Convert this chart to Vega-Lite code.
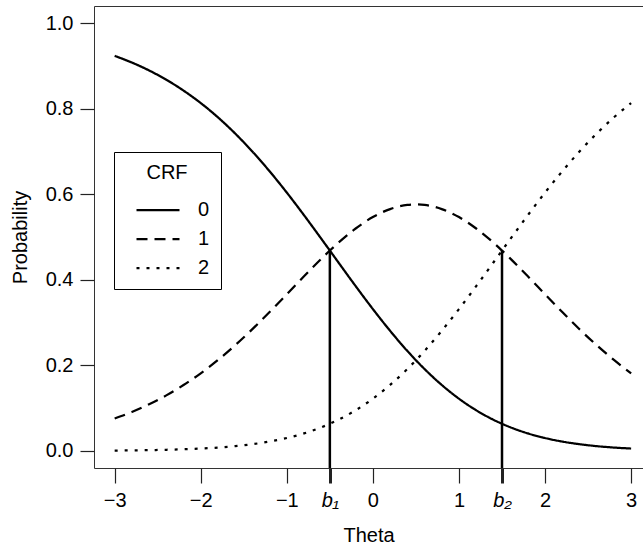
{
  "$schema": "https://vega.github.io/schema/vega-lite/v6.json",
  "width": 549,
  "height": 462,
  "autosize": {"type": "none"},
  "padding": {"left": 94, "top": 6, "right": 0, "bottom": 79},
  "background": "white",
  "config": {
    "font": "Liberation Sans",
    "view": {"stroke": "#333333", "strokeWidth": 1},
    "axis": {
      "grid": false,
      "domain": false,
      "labelFontSize": 20,
      "titleFontSize": 20,
      "titleFontWeight": "normal",
      "labelColor": "black",
      "titleColor": "black",
      "tickColor": "#222222"
    },
    "legend": {
      "titleFontSize": 20,
      "titleFontWeight": "normal",
      "titleColor": "black",
      "labelFontSize": 20,
      "labelColor": "black"
    }
  },
  "datasets": {
    "crf": [
      {"theta": -3.0, "0": 0.9234, "1": 0.0758, "2": 0.0008},
      {"theta": -2.8, "0": 0.9078, "1": 0.0910, "2": 0.0012},
      {"theta": -2.6, "0": 0.8893, "1": 0.1089, "2": 0.0018},
      {"theta": -2.4, "0": 0.8676, "1": 0.1298, "2": 0.0026},
      {"theta": -2.2, "0": 0.8423, "1": 0.1539, "2": 0.0038},
      {"theta": -2.0, "0": 0.8131, "1": 0.1814, "2": 0.0055},
      {"theta": -1.8, "0": 0.7797, "1": 0.2125, "2": 0.0078},
      {"theta": -1.6, "0": 0.7419, "1": 0.2470, "2": 0.0111},
      {"theta": -1.4, "0": 0.6998, "1": 0.2845, "2": 0.0157},
      {"theta": -1.2, "0": 0.6536, "1": 0.3246, "2": 0.0218},
      {"theta": -1.0, "0": 0.6038, "1": 0.3662, "2": 0.0301},
      {"theta": -0.8, "0": 0.5509, "1": 0.4081, "2": 0.0409},
      {"theta": -0.6, "0": 0.4961, "1": 0.4489, "2": 0.0550},
      {"theta": -0.5, "0": 0.4683, "1": 0.4683, "2": 0.0634},
      {"theta": -0.4, "0": 0.4404, "1": 0.4868, "2": 0.0728},
      {"theta": -0.2, "0": 0.3851, "1": 0.5199, "2": 0.0950},
      {"theta": 0.0, "0": 0.3315, "1": 0.5466, "2": 0.1220},
      {"theta": 0.2, "0": 0.2807, "1": 0.5653, "2": 0.1541},
      {"theta": 0.4, "0": 0.2337, "1": 0.5749, "2": 0.1914},
      {"theta": 0.5, "0": 0.2119, "1": 0.5761, "2": 0.2119},
      {"theta": 0.6, "0": 0.1914, "1": 0.5749, "2": 0.2337},
      {"theta": 0.8, "0": 0.1541, "1": 0.5653, "2": 0.2807},
      {"theta": 1.0, "0": 0.1220, "1": 0.5466, "2": 0.3315},
      {"theta": 1.2, "0": 0.0950, "1": 0.5199, "2": 0.3851},
      {"theta": 1.4, "0": 0.0728, "1": 0.4868, "2": 0.4404},
      {"theta": 1.5, "0": 0.0634, "1": 0.4683, "2": 0.4683},
      {"theta": 1.6, "0": 0.0550, "1": 0.4489, "2": 0.4961},
      {"theta": 1.8, "0": 0.0409, "1": 0.4081, "2": 0.5509},
      {"theta": 2.0, "0": 0.0301, "1": 0.3662, "2": 0.6038},
      {"theta": 2.2, "0": 0.0218, "1": 0.3246, "2": 0.6536},
      {"theta": 2.4, "0": 0.0157, "1": 0.2845, "2": 0.6998},
      {"theta": 2.6, "0": 0.0111, "1": 0.2470, "2": 0.7419},
      {"theta": 2.8, "0": 0.0078, "1": 0.2125, "2": 0.7797},
      {"theta": 3.0, "0": 0.0055, "1": 0.1814, "2": 0.8131}
    ],
    "cuts": [
      {"theta": -0.5, "lo": -0.04, "hi": 0.4683},
      {"theta": 1.5, "lo": -0.04, "hi": 0.4683}
    ]
  },
  "layer": [
    {
      "data": {"name": "crf"},
      "transform": [{"fold": ["0", "1", "2"], "as": ["CRF", "p"]}],
      "mark": {"type": "line", "color": "black", "strokeWidth": 2.25, "interpolate": "monotone"},
      "encoding": {
        "x": {
          "field": "theta",
          "type": "quantitative",
          "scale": {"domain": [-3.24, 3.138], "nice": false, "zero": false},
          "axis": {
            "title": "Theta",
            "values": [-3, -2, -1, -0.5, 0, 1, 1.5, 2, 3],
            "tickCount": 30,
            "tickMinStep": 0.1,
            "labelExpr": "datum.value == -0.5 ? 'b₁' : (datum.value == 1.5 ? 'b₂' : format(datum.value, 'd'))",
            "labelFontStyle": {"condition": {"test": "datum.value == -0.5 || datum.value == 1.5", "value": "italic"}, "value": "normal"},
            "tickWidth": {"condition": {"test": "datum.value == -0.5 || datum.value == 1.5", "value": 3}, "value": 1.2},
            "tickSize": 15,
            "labelPadding": 7,
            "titlePadding": 15,
            "labelFlush": false,
            "labelOverlap": false
          }
        },
        "y": {
          "field": "p",
          "type": "quantitative",
          "scale": {"domain": [-0.04, 1.04], "nice": false, "zero": false},
          "axis": {
            "title": "Probability",
            "values": [0, 0.2, 0.4, 0.6, 0.8, 1.0],
            "tickCount": 20,
            "format": ".1f",
            "tickSize": 14,
            "tickWidth": 1.2,
            "labelPadding": 7,
            "titlePadding": 15,
            "labelFlush": false
          }
        },
        "strokeDash": {
          "field": "CRF",
          "type": "nominal",
          "scale": {"domain": ["0", "1", "2"], "range": [[1, 0], [11, 7], [3, 7]]},
          "legend": {
            "title": "CRF",
            "orient": "none",
            "legendX": 20,
            "legendY": 146,
            "titleAnchor": "middle",
            "symbolType": "stroke",
            "symbolSize": 1849,
            "symbolStrokeWidth": 2.25,
            "symbolStrokeColor": "black",
            "strokeColor": "black",
            "padding": 11,
            "symbolOffset": 10,
            "labelOffset": 17,
            "titlePadding": 4,
            "gridAlign": "none",
            "rowPadding": -4
          }
        }
      }
    },
    {
      "data": {"name": "cuts"},
      "mark": {"type": "rule", "color": "black", "strokeWidth": 2.5},
      "encoding": {
        "x": {"field": "theta", "type": "quantitative"},
        "y": {"field": "lo", "type": "quantitative"},
        "y2": {"field": "hi"}
      }
    }
  ]
}
